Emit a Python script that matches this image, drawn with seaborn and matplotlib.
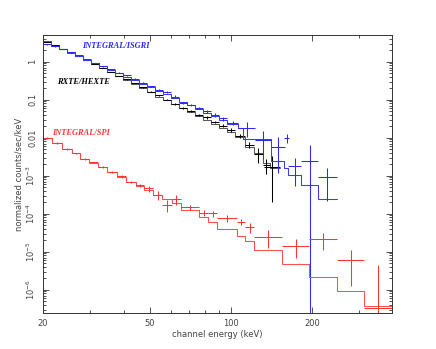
import numpy as np
import pandas as pd
import seaborn as sns
import matplotlib
matplotlib.use("Agg")
import matplotlib.pyplot as plt
from matplotlib.ticker import FixedLocator, FuncFormatter, LogLocator, NullFormatter


# ---- INTEGRAL/ISGRI (blue) ----
isgri_lo = [20.0, 21.42, 22.94, 24.56, 26.30, 28.17, 30.17, 32.31, 34.60, 37.05, 39.68, 42.49,
            45.51, 48.73, 52.19, 55.89, 59.86, 64.10, 68.65, 73.52, 78.73, 84.32, 90.30, 96.70,
            106.2, 122.8, 140.4, 157.8, 163.3, 181.6, 211.1]
isgri_hi = [21.42, 22.94, 24.56, 26.30, 28.17, 30.17, 32.31, 34.60, 37.05, 39.68, 42.49, 45.51,
            48.73, 52.19, 55.89, 59.86, 64.10, 68.65, 73.52, 78.73, 84.32, 90.30, 96.70, 106.2,
            122.8, 140.4, 158.7, 164.3, 181.6, 211.1, 247.1]
isgri_flux = [2.84, 2.51, 2.16, 1.75, 1.46, 1.18, 0.924, 0.748, 0.623, 0.504, 0.433, 0.351,
              0.275, 0.223, 0.180, 0.160, 0.121, 0.0819, 0.0725, 0.0605, 0.0489, 0.0396, 0.0320,
              0.0244, 0.0180, 0.0087, 0.0057, 0.0098, 0.00175, 0.00244, 0.00092]
isgri_err = [0.07, 0.06, 0.05, 0.04, 0.035, 0.03, 0.025, 0.02, 0.017, 0.015, 0.013, 0.011,
             0.01, 0.009, 0.008, 0.008, 0.008, 0.007, 0.006, 0.005, 0.005, 0.004, 0.004,
             0.003, 0.0078, 0.006, 0.0045, 0.0025, 0.0012, 0.004, 0.0007]
isgri_model_edges = [20.0, 21.42, 22.94, 24.56, 26.30, 28.17, 30.17, 32.31, 34.60, 37.05, 39.68,
                     42.49, 45.51, 48.73, 52.19, 55.89, 59.86, 64.10, 68.65, 73.52, 78.73, 84.32,
                     90.30, 96.70, 106.2, 110.8, 140.4, 157.8, 163.3, 181.6, 211.1, 247.1]
isgri_model = [2.92, 2.51, 2.10, 1.75, 1.41, 1.14, 0.924, 0.748, 0.605, 0.489, 0.396, 0.320,
               0.259, 0.210, 0.169, 0.137, 0.111, 0.087, 0.0704, 0.0569, 0.0447, 0.0361, 0.0284,
               0.0235, 0.0177, 0.00924, 0.00244, 0.00163, 0.00104, 0.00057, 0.00025]

# ---- RXTE/HEXTE (black) ----
hexte_lo = [20.0, 21.42, 22.94, 24.56, 26.30, 28.17, 30.17, 32.31, 34.60, 37.05, 39.68, 42.49,
            45.51, 48.73, 52.19, 55.89, 59.86, 64.10, 68.65, 73.52, 78.73, 84.32, 90.30, 96.70,
            103.5, 112.7, 121.7, 131.5, 132.6]
hexte_hi = [21.42, 22.94, 24.56, 26.30, 28.17, 30.17, 32.31, 34.60, 37.05, 39.68, 42.49, 45.51,
            48.73, 52.19, 55.89, 59.86, 64.10, 68.65, 73.52, 78.73, 84.32, 90.30, 96.70, 103.5,
            112.7, 121.7, 131.5, 139.6, 152.1]
hexte_flux = [3.30, 2.67, 2.16, 1.75, 1.41, 1.11, 0.870, 0.683, 0.536, 0.420, 0.340, 0.275,
              0.210, 0.164, 0.129, 0.101, 0.0770, 0.0605, 0.0504, 0.0396, 0.0340, 0.0259, 0.0209,
              0.0159, 0.0113, 0.0064, 0.0037, 0.0019, 0.0017]
hexte_err = [0.08, 0.06, 0.05, 0.04, 0.03, 0.025, 0.02, 0.016, 0.013, 0.011, 0.009, 0.008,
             0.007, 0.006, 0.005, 0.005, 0.004, 0.0035, 0.003, 0.0028, 0.0025, 0.0022, 0.002,
             0.0018, 0.0014, 0.0011, 0.0016, 0.0008, 0.0015]
hexte_model_edges = [20.0, 21.42, 22.94, 24.56, 26.30, 28.17, 30.17, 32.31, 34.60, 37.05, 39.68,
                     42.49, 45.51, 48.73, 52.19, 55.89, 59.86, 64.10, 68.65, 73.52, 78.73, 84.32,
                     90.30, 96.70, 103.5, 112.7, 121.7, 131.5, 139.6, 152.1]
hexte_model = [3.40, 2.67, 2.10, 1.69, 1.37, 1.08, 0.844, 0.662, 0.520, 0.408, 0.320, 0.251,
               0.197, 0.155, 0.121, 0.0953, 0.0748, 0.0587, 0.0460, 0.0361, 0.0292, 0.0229,
               0.0180, 0.0141, 0.0104, 0.0057, 0.0039, 0.0021, 0.0016]

# ---- INTEGRAL/SPI (red) ----
spi_edges = [20.0, 21.55, 23.47, 25.57, 27.46, 29.73, 32.11, 34.68, 37.79, 40.70, 44.24, 47.61,
             51.41, 55.27, 60.22, 65.17, 76.23, 82.13, 88.90, 105.0, 112.7, 122.1, 155.1, 195.4,
             248.3, 312.9, 395.7]
spi_flux = [0.00982, 0.00725, 0.00504, 0.00389, 0.00275, 0.00223, 0.00169, 0.00125, 0.000953,
            0.000683, 0.000552, 0.000466, 0.000310, 0.000169, 0.000244, 0.000147, 0.000106,
            0.000102, 7.57e-5, 6.16e-5, 4.39e-5, 2.48e-5, 1.44e-5, 2.12e-5, 6.05e-6, 3.3e-7]
spi_err = [0.0004, 0.0003, 0.0002, 0.00016, 0.00012, 0.0001, 0.00008, 0.00007, 0.00006,
           0.00005, 0.00004, 0.000085, 0.000082, 0.000055, 0.000071, 0.000024, 1.9e-5, 1.9e-5,
           1.7e-5, 1.1e-5, 1.2e-5, 1.2e-5, 7.4e-6, 1.0e-5, 4.8e-6, 4.1e-6]
spi_model = [0.00964, 0.00712, 0.00504, 0.00389, 0.00275, 0.00220, 0.00166, 0.00123, 0.000941,
             0.000671, 0.000546, 0.000420, 0.000310, 0.000239, 0.000188, 0.000125, 7.94e-5,
             6.05e-5, 3.89e-5, 2.59e-5, 1.91e-5, 1.11e-5, 4.75e-6, 2.12e-6, 9.24e-7, 3.72e-7]

x_ticks = [20, 50, 100, 200]
x_minor = [30, 40, 60, 70, 80, 90, 300]
y_ticks = [1e-6, 1e-5, 1e-4, 1e-3, 0.01, 0.1, 1]


def draw_instrument(ax, lo, hi, flux, err, edges, model, data_color, model_color):
    lo = np.array(lo)
    hi = np.array(hi)
    mid = np.sqrt(lo * hi)
    step = pd.DataFrame({"energy": edges, "rate": list(model) + [model[-1]]})
    sns.lineplot(data=step, x="energy", y="rate", drawstyle="steps-post", color=model_color,
                 lw=0.75, estimator=None, sort=False, ax=ax)
    ax.errorbar(mid, flux, xerr=[mid - lo, hi - mid], yerr=err, fmt="none",
                ecolor=data_color, elinewidth=0.75, capsize=0)


def main():
    sns.set_style("ticks")
    fig = plt.figure(figsize=(4.36, 3.49), dpi=100)
    ax = fig.add_axes([0.0986, 0.1032, 0.8004, 0.7966])
    ax.set_xscale("log")
    ax.set_yscale("log")

    draw_instrument(ax, hexte_lo, hexte_hi, hexte_flux, hexte_err,
                    hexte_model_edges, hexte_model, "black", "#5a5a5a")
    draw_instrument(ax, isgri_lo, isgri_hi, isgri_flux, isgri_err,
                    isgri_model_edges, isgri_model, "#2a2aff", "#3c3cff")
    draw_instrument(ax, spi_edges[:-1], spi_edges[1:], spi_flux, spi_err,
                    spi_edges, spi_model, "#ff3535", "#ff5050")

    ax.set_xlim(20, 396.6)
    ax.set_ylim(2.44e-7, 5.04)

    ax.xaxis.set_major_locator(FixedLocator(x_ticks))
    ax.xaxis.set_major_formatter(FuncFormatter(lambda v, p: f"{v:g}"))
    ax.xaxis.set_minor_locator(FixedLocator(x_minor))
    ax.xaxis.set_minor_formatter(NullFormatter())
    ax.yaxis.set_major_locator(FixedLocator(y_ticks))
    ax.yaxis.set_minor_locator(LogLocator(base=10, subs=np.arange(2, 10), numticks=20))
    ax.yaxis.set_minor_formatter(NullFormatter())
    ax.yaxis.set_major_formatter(FuncFormatter(
        lambda v, p: f"{v:g}" if v >= 0.01 else r"$10^{%d}$" % round(np.log10(v))))

    ax.tick_params(which="both", direction="in", top=True, right=True,
                   color="#333333", width=0.6, labelsize=6, labelcolor="#444444", pad=4)
    ax.tick_params(which="major", length=4)
    ax.tick_params(which="minor", length=2)
    ax.tick_params(axis="y", labelrotation=90)
    for lab in ax.get_yticklabels():
        lab.set_va("center")
    for s in ax.spines.values():
        s.set_color("#333333")
        s.set_linewidth(0.7)

    ax.set_xlabel("channel energy (keV)", fontsize=6, color="#444444", labelpad=2)
    ax.set_ylabel("normalized counts/sec/keV", fontsize=6, color="#444444", labelpad=1)

    lab_font = dict(family="Liberation Serif", weight="bold", style="italic", fontsize=6,
                    transform=ax.transAxes, va="center", ha="left")
    ax.text(0.112, 0.9615, "INTEGRAL/ISGRI", color="#2a2aff", **lab_font)
    ax.text(0.039, 0.832, "RXTE/HEXTE", color="black", **lab_font)
    ax.text(0.025, 0.646, "INTEGRAL/SPI", color="#ff3535", **lab_font)

    fig.savefig("out.png", dpi=100)


if __name__ == "__main__":
    main()
